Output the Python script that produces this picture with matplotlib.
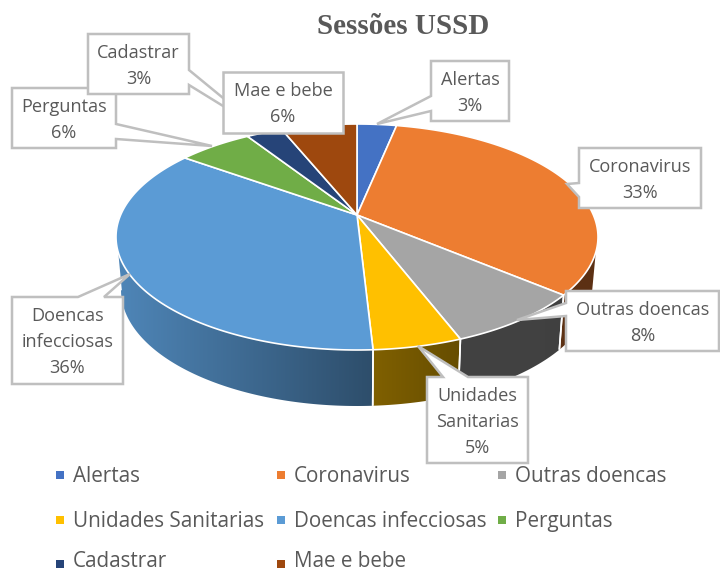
import numpy as np
import matplotlib
matplotlib.use("Agg")
import matplotlib.pyplot as plt
from matplotlib.patches import Polygon

# ---- data ----
categories = ["Alertas", "Coronavirus", "Outras doencas", "Unidades Sanitarias",
              "Doencas infecciosas", "Perguntas", "Cadastrar", "Mae e bebe"]
values = [3.3, 32.6, 8.1, 5.1, 35.6, 6.0, 3.0, 6.3]
colors = ["#4472C4", "#ED7D31", "#A5A5A5", "#FFC000",
          "#5B9BD5", "#70AD47", "#264478", "#9E480E"]
label_text = {"Unidades Sanitarias": "Unidades\nSanitarias",
              "Doencas infecciosas": "Doencas\ninfecciosas"}

# ---- geometry (pixels) ----
W, H = 720, 573
CX, CY, RX, RY = 357.0, 237.0, 241.0, 113.0     # top ellipse
AX_, AY_, K = 357.0, 215.0, 0.475               # perspective apex
CY2, RX2, RY2 = 290.0, 236.0, 116.0             # lower ellipse

plt.rcParams["font.family"] = ["Open Sans", "DejaVu Sans"]
fig = plt.figure(figsize=(W / 100, H / 100), dpi=100)
ax = fig.add_axes([0, 0, 1, 1])
ax.axis("off")


def rim(theta):
    """Point of the top ellipse hit by the slice ray at angle theta (radians, clockwise from top)."""
    dx, dy = np.sin(theta), -K * np.cos(theta)
    ox, oy = (AX_ - CX) / RX, (AY_ - CY) / RY
    a = (dx / RX) ** 2 + (dy / RY) ** 2
    b = 2 * (ox * dx / RX + oy * dy / RY)
    c = ox ** 2 + oy ** 2 - 1
    r = (-b + np.sqrt(b ** 2 - 4 * a * c)) / (2 * a)
    return AX_ + r * dx, AY_ + r * dy


def shade(x):
    return np.interp(x, [120, 373, 460, 600], [0.86, 0.50, 0.40, 0.39])


edges = np.cumsum([0.0] + values) / sum(values) * 2 * np.pi

# walls: a horizontal gradient clipped to each wall's outline
for i, col in enumerate(colors):
    th = np.linspace(edges[i], edges[i + 1], 160)
    x, y = rim(th)
    t = np.mod(np.arctan2((x - CX) / RX, -(y - CY) / RY), 2 * np.pi)
    keep = (t >= np.pi / 2) & (t <= 1.5 * np.pi)
    if keep.sum() < 2:
        continue
    t = t[keep]
    x, y = x[keep], y[keep]
    lx, ly = CX + RX2 * np.sin(t), CY2 - RY2 * np.cos(t)
    outline = np.column_stack([np.r_[x, lx[::-1]], np.r_[y, ly[::-1]]])
    clip = Polygon(outline, closed=True, facecolor="none", edgecolor="none", transform=ax.transData)
    ax.add_patch(clip)
    x0, x1 = outline[:, 0].min(), outline[:, 0].max()
    y0, y1 = outline[:, 1].min(), outline[:, 1].max()
    xs = np.linspace(x0, x1, 300)
    grad = (np.array(matplotlib.colors.to_rgb(col))[None, None, :] * shade(xs)[None, :, None])
    im = ax.imshow(grad, extent=(x0, x1, y1, y0), aspect="auto", interpolation="bilinear", zorder=2)
    im.set_clip_path(clip)
    for j in (0, -1):
        ax.plot([x[j], lx[j]], [y[j], ly[j]], color="white", lw=1.2, zorder=3, solid_capstyle="butt")

# top slices
for i, col in enumerate(colors):
    th = np.linspace(edges[i], edges[i + 1], 160)
    x, y = rim(th)
    pts = np.column_stack([np.r_[AX_, x], np.r_[AY_, y]])
    ax.add_patch(Polygon(pts, closed=True, facecolor=col, edgecolor="white", lw=1.2, zorder=4))

# ---- callouts: outline in pixels, anchor of the text ----
callouts = {
    "Perguntas": [(12, 88), (116, 88), (116, 124), (212, 146), (116, 139), (116, 148), (12, 148)],
    "Cadastrar": [(88, 34), (189, 34), (189, 70), (262, 130), (189, 85), (189, 94), (88, 94)],
    "Mae e bebe": [(223, 72), (343, 72), (343, 133), (223, 133)],
    "Alertas": [(431, 61), (509, 61), (509, 121), (431, 121), (431, 111), (377, 124), (431, 96)],
    "Coronavirus": [(579, 148), (701, 148), (701, 208), (579, 208), (579, 197), (567, 184), (579, 183)],
    "Outras doencas": [(566, 291), (719, 291), (719, 351), (566, 351), (566, 316), (517, 320), (566, 303)],
    "Unidades Sanitarias": [(427, 377), (443, 377), (418, 346), (468, 377), (528, 377), (528, 463), (427, 463)],
    "Doencas infecciosas": [(12, 297), (78, 297), (130, 274), (104, 297), (123, 297), (123, 384), (12, 384)],
}
box_text = {
    "Perguntas": (64, 120), "Cadastrar": (138.5, 66), "Mae e bebe": (283, 104),
    "Alertas": (470, 93), "Coronavirus": (640, 180), "Outras doencas": (642.5, 323),
    "Unidades Sanitarias": (477.5, 422), "Doencas infecciosas": (67.5, 342),
}
for z, name in enumerate(callouts):
    ax.add_patch(Polygon(callouts[name], closed=True, facecolor="white", edgecolor="#BFBFBF",
                         lw=1.8, joinstyle="miter", zorder=5 + z * 0.1))
    v = values[categories.index(name)]
    ax.text(*box_text[name], f"{label_text.get(name, name)}\n{round(v)}%", ha="center", va="center",
            ma="center", fontsize=13.1, color="#595959", linespacing=1.58, zorder=5.05 + z * 0.1)

# ---- legend ----
col_x = [60, 281, 502]
row_y = [475, 520, 564]
text_y = [476.5, 521.5, 561.5]
for i, (name, col) in enumerate(zip(categories, colors)):
    lx = col_x[i % 3]
    ly = row_y[i // 3]
    ax.scatter([lx], [ly], marker="s", s=30, color=col, linewidths=0, zorder=6)
    ax.text(lx + 13, text_y[i // 3], name, ha="left", va="center", fontsize=14.9, color="#595959", zorder=6)

ax.text(403.5, 26.5, "Sessões USSD", ha="center", va="center", fontsize=21,
        fontweight="bold", family="Liberation Serif", color="#595959", zorder=6)

ax.set_xlim(0, W)
ax.set_ylim(H, 0)
fig.savefig("out.png", dpi=100)
